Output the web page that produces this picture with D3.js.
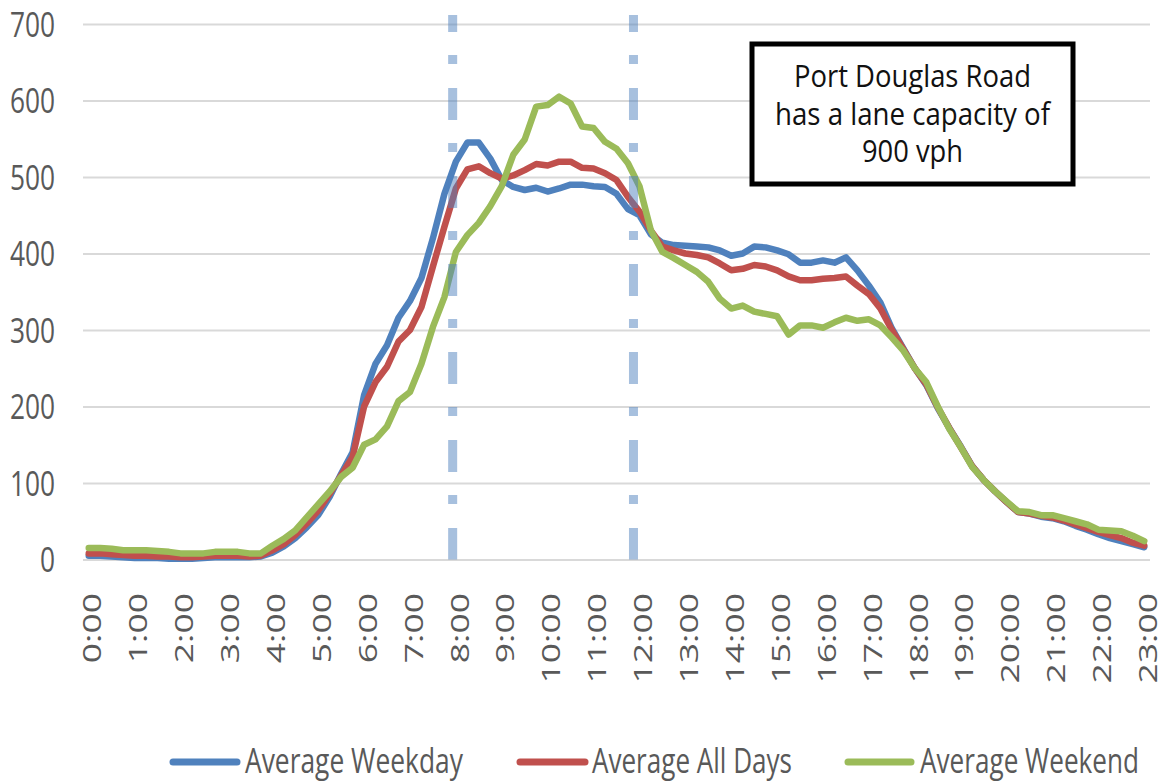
<!DOCTYPE html>
<html><head><meta charset="utf-8">
<script src="https://cdn.jsdelivr.net/npm/d3@7"></script>
<style>html,body{margin:0;padding:0;background:#fff;}svg{display:block;}</style>
</head><body>
<svg id="chart" width="1164" height="782"></svg>
<script>
// ---------- DATA ----------
const times = ["0:00","0:15","0:30","0:45","1:00","1:15","1:30","1:45","2:00","2:15","2:30","2:45","3:00","3:15","3:30","3:45",
"4:00","4:15","4:30","4:45","5:00","5:15","5:30","5:45","6:00","6:15","6:30","6:45","7:00","7:15","7:30","7:45",
"8:00","8:15","8:30","8:45","9:00","9:15","9:30","9:45","10:00","10:15","10:30","10:45","11:00","11:15","11:30","11:45",
"12:00","12:15","12:30","12:45","13:00","13:15","13:30","13:45","14:00","14:15","14:30","14:45","15:00","15:15","15:30","15:45",
"16:00","16:15","16:30","16:45","17:00","17:15","17:30","17:45","18:00","18:15","18:30","18:45","19:00","19:15","19:30","19:45",
"20:00","20:15","20:30","20:45","21:00","21:15","21:30","21:45","22:00","22:15","22:30","22:45","23:00"];

const tickLabels = ["0:00","1:00","2:00","3:00","4:00","5:00","6:00","7:00","8:00","9:00","10:00","11:00",
"12:00","13:00","14:00","15:00","16:00","17:00","18:00","19:00","20:00","21:00","22:00","23:00"];

const yTicks = [0,100,200,300,400,500,600,700];

const weekday = [5,5,4,3, 2,2,2,1, 1,1,2,3, 3,3,3,4,
 9,17,28,42, 58,82,112,140,
 215,256,280,316, 338,368,420,478,
 520,545,545,524, 496,487,483,486,
 481,485,490,490, 488,487,478,458,
 450,425,414,411, 410,409,408,404,
 397,400,409,408, 404,399,388,388,
 391,388,395,378, 358,336,302,276,
 250,228,198,172, 148,122,104,89,
 75,62,60,56, 54,50,44,39,
 33,28,24,20, 16];

const allDays = [8,8,7,6, 5,5,4,4, 3,3,4,5, 5,5,4,5,
 12,20,32,47, 64,86,110,134,
 200,232,252,285, 300,330,383,435,
 485,510,514,505, 498,502,509,517,
 515,520,520,512, 511,505,496,474,
 455,430,409,404, 400,398,395,387,
 378,380,385,383, 378,370,365,365,
 367,368,370,358, 347,328,300,275,
 250,229,199,172, 147,122,104,89,
 75,62,60,57, 55,51,46,41,
 36,32,28,22, 18];

const weekend = [15,15,14,12, 12,12,11,10, 8,8,8,10, 10,10,8,8,
 18,27,38,55, 72,89,108,120,
 150,157,174,207, 219,256,304,343,
 402,424,440,462, 488,529,549,592,
 594,605,596,566, 564,546,537,518,
 488,430,402,394, 385,376,363,341,
 328,332,324,321, 318,294,306,306,
 303,310,316,312, 314,306,290,273,
 250,232,200,171, 147,121,104,89,
 76,63,62,58, 58,54,50,46,
 39,38,37,31, 24];

const seriesNames = ["Average Weekday","Average All Days","Average Weekend"];
const seriesColors = ["#4f81bd","#c0504d","#9bbb59"];
const markerHours = [7.93, 11.87];
const noteLines = ["Port Douglas Road","has a lane capacity of","900 vph"];

// ---------- LAYOUT ----------
const plotL = 83, plotR = 1150, plotT = 24, plotB = 559.5;
const FONT = "'Open Sans', 'Noto Sans', sans-serif";
const FS = 26.3, K = 1.35;   // font size and vertical stretch
const TXT = "#595959";

const svg = d3.select("#chart");
const x = d3.scalePoint().domain(times).range([plotL, plotR]).padding(0.5);
const y = d3.scaleLinear().domain([0, 700]).range([plotB, plotT]);
const xh = d3.scaleLinear().domain([0, 23]).range([x("0:00"), x("23:00")]);

// gridlines + y labels
const gy = svg.append("g").attr("transform", `translate(${plotL},0)`)
  .call(d3.axisLeft(y).tickValues(yTicks).tickSize(-(plotR - plotL)).tickFormat(d3.format("d")));
gy.select(".domain").remove();
gy.selectAll(".tick line").attr("stroke", "#d9d9d9").attr("stroke-width", 2);
gy.selectAll(".tick text")
  .attr("x", null).attr("dy", "0.35em")
  .attr("transform", `translate(-28,0) scale(1,${K})`)
  .attr("fill", TXT).style("font-family", FONT).style("font-size", FS + "px")
  .attr("text-anchor", "end");

// x labels
const gx = svg.append("g").attr("transform", `translate(0,593)`)
  .call(d3.axisBottom(x).tickValues(tickLabels).tickSize(0));
gx.select(".domain").remove();
gx.selectAll(".tick text")
  .attr("x", 0).attr("y", 0).attr("dy", "0.35em")
  .attr("transform", `translate(3,0) scale(1,${K}) rotate(-90)`)
  .attr("text-anchor", "end")
  .attr("fill", TXT).style("font-family", FONT).style("font-size", FS + "px");

// lines
const series = [weekday, allDays, weekend];
const line = d3.line().x((d, i) => x(times[i])).y(d => y(d));
series.forEach((s, i) => {
  svg.append("path").datum(s).attr("d", line)
    .attr("fill", "none").attr("stroke", seriesColors[i])
    .attr("stroke-width", 6.5).attr("stroke-linejoin", "round").attr("stroke-linecap", "round");
});

// dashed marker lines
svg.selectAll("line.marker").data(markerHours).enter().append("line")
  .attr("class", "marker")
  .attr("x1", d => xh(d)).attr("x2", d => xh(d))
  .attr("y1", 15).attr("y2", plotB)
  .attr("stroke", "#4f81bd").attr("stroke-opacity", 0.5).attr("stroke-width", 9)
  .attr("stroke-dasharray", "32,23,9,24").attr("stroke-dashoffset", 15);

// note box
svg.append("rect").attr("x", 752).attr("y", 44).attr("width", 321).attr("height", 140)
  .attr("fill", "#fff").attr("stroke", "#000").attr("stroke-width", 5);
const noteBase = [87, 124.5, 162];
const noteW = [237, 275, 101];
noteLines.forEach((t, i) => {
  svg.append("text").text(t)
    .attr("transform", `translate(912.5,${noteBase[i]}) scale(1,1.25)`)
    .attr("text-anchor", "middle").attr("fill", "#111")
    .attr("textLength", noteW[i]).attr("lengthAdjust", "spacingAndGlyphs")
    .style("font-family", FONT).style("font-size", "24.5px");
});

// legend
const legSw = [[170, 240], [517, 588], [845, 914]];
const legTx = [245, 592, 920];
const legTw = [218, 200, 219];
seriesNames.forEach((n, i) => {
  svg.append("line").attr("x1", legSw[i][0] + 3).attr("x2", legSw[i][1] - 3)
    .attr("y1", 762).attr("y2", 762).attr("stroke", seriesColors[i])
    .attr("stroke-width", 7).attr("stroke-linecap", "round");
  svg.append("text").text(n)
    .attr("transform", `translate(${legTx[i]},773) scale(1,1.3)`)
    .attr("fill", TXT).attr("textLength", legTw[i]).attr("lengthAdjust", "spacingAndGlyphs")
    .style("font-family", FONT).style("font-size", FS + "px");
});
</script>
</body></html>
